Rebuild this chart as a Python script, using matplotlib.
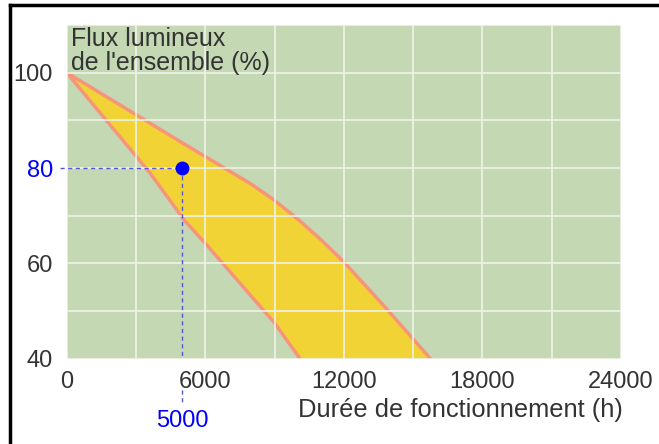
import matplotlib.pyplot as plt
from matplotlib.lines import Line2D

plt.rcParams['font.family'] = ['Liberation Sans', 'DejaVu Sans']

# Flux lumineux (%) en fonction de la durée de fonctionnement (h)
upper_h = [0, 3000, 5000, 7000, 8000, 9000, 10000, 11000, 12000, 13900, 15750]
upper_pct = [100, 91.2, 85.3, 79.5, 76.6, 73.2, 69.3, 65.0, 60.3, 50.2, 40]
lower_h = [0, 3000, 3600, 5100, 6000, 9000, 10100]
lower_pct = [100, 82.5, 79, 69, 64.2, 47.5, 40]

point_h, point_pct = 5000, 80
x_ticks = [0, 6000, 12000, 18000, 24000]
y_ticks = [40, 60, 80, 100]

green = '#c5d8b4'
yellow = '#f2d335'
salmon = '#f7957a'
blue = '#0000ff'
dash_blue = '#5555dd'
text_col = '#333333'

fig = plt.figure(figsize=(6.59, 4.44), dpi=100)
ax = fig.add_axes([66.7 / 659, 1 - 358.7 / 444, (621 - 66.7) / 659, (358.7 - 25) / 444])
ax.set_facecolor(green)

ax.fill(upper_h + lower_h[::-1], upper_pct + lower_pct[::-1],
        color=yellow, lw=0, zorder=1)
ax.plot(upper_h, upper_pct, color=salmon, lw=2.5, zorder=1.2)
ax.plot(lower_h, lower_pct, color=salmon, lw=2.5, zorder=1.2)

ax.set_xlim(0, 24000)
ax.set_ylim(40, 110)
ax.set_xticks(range(0, 24001, 3000), minor=True)
ax.set_yticks(range(40, 111, 10), minor=True)
ax.set_xticks(x_ticks)
ax.set_yticks(y_ticks)
ax.set_xticklabels([str(v) for v in x_ticks])
ax.set_yticklabels([str(v) for v in y_ticks])
ax.grid(True, which='both', color='#eef2e8', lw=1.2, zorder=1.5)
ax.tick_params(which='both', length=0, labelsize=17, labelcolor=text_col)
ax.tick_params(axis='y', pad=10)
ax.tick_params(axis='x', pad=9)
for lbl, v in zip(ax.get_yticklabels(), y_ticks):
    if v == point_pct:
        lbl.set_color(blue)
for s in ax.spines.values():
    s.set_visible(False)

# repère du point (5000 h ; 80 %)
ax.plot([-300, point_h], [point_pct, point_pct], ls=(0, (3, 2.5)),
        color=dash_blue, lw=1, clip_on=False, zorder=3)
ax.plot([point_h, point_h], [point_pct, 40], ls=(0, (3, 2.5)),
        color=dash_blue, lw=1, clip_on=False, zorder=3)
ax.plot([point_h, point_h], [33.4, 30.4], ls=(0, (3, 2.5)),
        color=dash_blue, lw=1, clip_on=False, zorder=3)
ax.plot(point_h, point_pct, 'o', color=blue, ms=9, zorder=4)
ax.text(point_h, 27.0, str(point_h), color=blue, fontsize=17,
        ha='center', va='center')

ax.text(0.008, 0.995, "Flux lumineux\nde l'ensemble (%)", transform=ax.transAxes,
        ha='left', va='top', fontsize=18, color=text_col, linespacing=1.0)
fig.text(623 / 659, 1 - 410 / 444, 'Durée de fonctionnement (h)', ha='right',
         va='center', fontsize=18.4, color=text_col)

# cadre
fig.add_artist(Line2D([10 / 659, 10 / 659], [0, 1 - 5 / 444], color='black', lw=2.5))
fig.add_artist(Line2D([10 / 659, 1], [1 - 5 / 444, 1 - 5 / 444], color='black', lw=2.5))

fig.savefig('out.png', dpi=100)
